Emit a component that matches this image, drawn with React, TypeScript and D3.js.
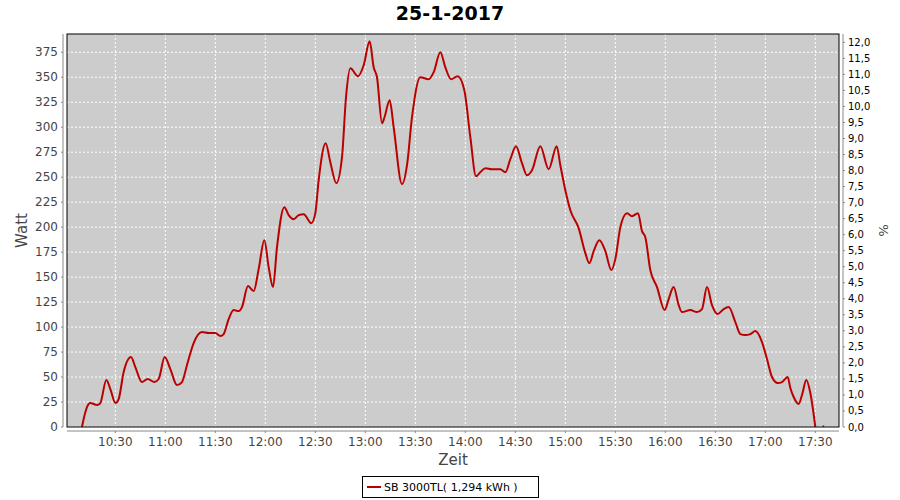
import React from "react";
import * as d3 from "d3";

const title = "25-1-2017";
const seriesName = "SB 3000TL( 1,294 kWh )";
const times = ["10:10","10:11","10:13","10:15","10:19","10:21","10:24.6","10:27","10:30","10:32","10:35","10:39.4","10:42","10:46","10:49.4","10:53.4","10:56","10:59.6","11:03","11:07","11:10","11:13","11:17","11:22","11:26","11:30","11:33","11:35","11:38","11:41","11:44","11:46","11:49.6","11:53","11:56","11:59.4","12:02","12:04.6","12:07","12:11.4","12:14","12:17","12:20","12:23","12:27.6","12:30","12:32","12:36.2","12:39","12:42.6","12:46","12:48.4","12:51","12:55.6","12:59","13:02.6","13:05","13:07","13:10","13:11.5","13:14.6","13:17","13:22","13:25","13:28","13:33","13:38","13:41","13:45","13:48","13:51.4","13:55.4","13:59.4","14:03","14:06.4","14:09","14:12","14:16","14:21","14:24","14:27","14:30.4","14:34","14:37","14:40","14:45","14:50","14:54.8","14:57","15:00","15:03","15:08","15:12","15:14.4","15:17","15:20.4","15:24","15:27.6","15:30","15:33","15:37","15:40","15:43.6","15:46","15:48","15:51","15:55","15:59.6","16:02","16:05","16:08","16:10","16:15","16:19","16:22","16:25","16:28","16:31.4","16:35","16:38","16:42","16:45","16:48","16:51","16:54","16:58","17:01","17:04","17:07.4","17:10","17:13.4","17:15","17:17","17:20","17:22","17:24.6","17:27","17:30"];
const watts = [0,8,20,24,22,24,47,38,24,28,55,70,60,45,48,45,48,70,58,42,45,62,84,95,94,94,91,93,108,117,116,120,141,136,158,187,160,140,180,220,212,208,212,213,204,214,247,284,265,244,270,330,359,351,362,386,360,350,304,310,327,300,243,262,310,350,348,355,375,360,348,351,337,290,251,255,259,258,258,255,268,281,264,252,257,281,258,281,262,237,217,199,174,164,176,187,176,157,168,200,214,211,214,196,190,157,140,117,128,140,122,115,117,115,118,140,122,113,118,120,105,93,92,93,96,85,68,50,44,45,50,39,30,23,32,47,34,0];
const tailTimes = ["17:34.5","17:35.3"];
const tailWatts = [0.6, 0.6];
const wattTicks = [0,25,50,75,100,125,150,175,200,225,250,275,300,325,350,375];
const pctTicks = d3.range(0, 12.01, 0.5);

const toDate = (s: string) => {
  const [h, m] = s.split(":");
  const mm = parseFloat(m);
  return new Date(2017, 0, 25, +h, Math.floor(mm), Math.round((mm % 1) * 60));
};

const W = 900, H = 500;
const L = 67, R = 839, T = 34, B = 427;

export default function App() {
  const x = d3.scaleTime().domain([new Date(2017,0,25,10,1,0), new Date(2017,0,25,17,44,12)]).range([L, R]);
  const y = d3.scaleLinear().domain([0, 393.3]).range([B, T]);
  const y2 = d3.scaleLinear().domain([0, 12.26]).range([B, T]);
  const xTicks = x.ticks(d3.timeMinute.every(30)!).filter(t => x(t) > L + 5 && x(t) < R - 5);
  const fmt = d3.timeFormat("%H:%M");
  const pts: [Date, number][] = times.map((t, i) => [toDate(t), watts[i]]);
  const tail: [Date, number][] = tailTimes.map((t, i) => [toDate(t), tailWatts[i]]);
  const line = d3.line<[Date, number]>().x(d => x(d[0])).y(d => y(d[1])).curve(d3.curveMonotoneX);
  const font = "'DejaVu Sans', sans-serif";
  const tickColor = "#444444";
  const axisColor = "#888888";
  return (
    <svg width={W} height={H} style={{ position: "absolute", left: 0, top: 0, background: "#fff" }} fontFamily={font}>
      <rect x={0} y={0} width={W} height={H} fill="#ffffff" />
      <text x={450} y={20} textAnchor="middle" fontSize={19} fontWeight="bold" fill="#000">{title}</text>
      <rect x={L} y={T} width={R - L} height={B - T} fill="#cccccc" />
      <defs>
        <clipPath id="plotclip"><rect x={L} y={T} width={R - L} height={B - T} /></clipPath>
      </defs>
      {xTicks.map((t, i) => (
        <line key={"gx" + i} x1={x(t)} x2={x(t)} y1={T} y2={B} stroke="#ffffff" strokeWidth={1} strokeDasharray="2,2" />
      ))}
      {wattTicks.map((v, i) => (
        <line key={"gy" + i} x1={L} x2={R} y1={y(v)} y2={y(v)} stroke="#ffffff" strokeWidth={1} strokeDasharray="2,2" />
      ))}
      <g clipPath="url(#plotclip)">
        <path d={line(pts) || ""} fill="none" stroke="#bb0000" strokeWidth={2} strokeLinejoin="round" />
        <path d={line(tail) || ""} fill="none" stroke="#bb0000" strokeWidth={2} />
      </g>
      <rect x={L} y={T} width={R - L} height={B - T} fill="none" stroke="#000" strokeWidth={1} />
      {/* left axis */}
      <line x1={63} x2={63} y1={T} y2={B} stroke={axisColor} />
      {wattTicks.map((v, i) => (
        <g key={"ly" + i}>
          <line x1={61} x2={63} y1={y(v)} y2={y(v)} stroke={axisColor} />
          <text x={58} y={y(v) + 4} textAnchor="end" fontSize={12} fill={tickColor}>{v}</text>
        </g>
      ))}
      <text transform={`translate(27,${(T + B) / 2}) rotate(-90)`} textAnchor="middle" fontSize={15} fill={tickColor}>Watt</text>
      {/* right axis */}
      <line x1={843} x2={843} y1={T} y2={B} stroke={axisColor} />
      {pctTicks.map((v, i) => (
        <g key={"ry" + i}>
          <line x1={843} x2={845} y1={y2(v)} y2={y2(v)} stroke={axisColor} />
          <text x={848} y={y2(v) + 3.5} textAnchor="start" fontSize={10} fill="#000">{v.toFixed(1).replace(".", ",")}</text>
        </g>
      ))}
      <text transform={`translate(879,${(T + B) / 2}) rotate(90)`} textAnchor="middle" fontSize={13} fill={tickColor}>%</text>
      {/* bottom axis */}
      <line x1={L} x2={R} y1={431} y2={431} stroke={axisColor} />
      {xTicks.map((t, i) => (
        <g key={"lx" + i}>
          <line x1={x(t)} x2={x(t)} y1={431} y2={433} stroke={axisColor} />
          <text x={x(t)} y={446} textAnchor="middle" fontSize={12} fill={tickColor}>{fmt(t)}</text>
        </g>
      ))}
      <text x={(L + R) / 2} y={465} textAnchor="middle" fontSize={15} fill={tickColor}>Zeit</text>
      {/* legend */}
      <rect x={362.5} y={476.5} width={176} height={21} fill="#fff" stroke="#000" strokeWidth={1} />
      <line x1={367} x2={381} y1={487} y2={487} stroke="#bb0000" strokeWidth={2} />
      <text x={384} y={491} fontSize={11} fill="#000">{seriesName}</text>
    </svg>
  );
}
